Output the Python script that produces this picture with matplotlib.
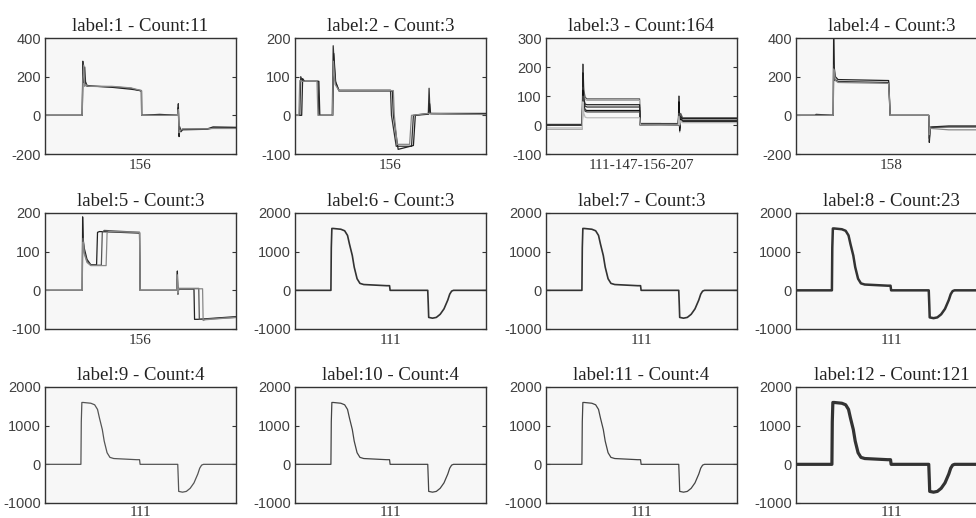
import matplotlib
matplotlib.use('Agg')
import matplotlib.pyplot as plt

# ---- panel text ----
labels = [1, 2, 3, 4, 5, 6, 7, 8, 9, 10, 11, 12]
counts = [11, 3, 164, 3, 3, 3, 3, 23, 4, 4, 4, 121]
xnames = ['156', '156', '111-147-156-207', '158', '156', '111',
          '111', '111', '111', '111', '111', '111']
yticks_list = [[-200, 0, 200, 400], [-100, 0, 100, 200], [-100, 0, 100, 200, 300],
               [-200, 0, 200, 400], [-100, 0, 100, 200]] + [[-1000, 0, 1000, 2000]] * 7

# ---- panel 1 (label 1) ----
p1_x = [0, 19.5, 19.8, 20.3, 20.8, 21.3, 22, 24, 35, 45, 50.5, 50.6, 60, 69.5,
        69.8, 70.2, 70.6, 71.2, 72, 85, 88, 100]
p1_y = [
    [0, 0, 280, 170, 250, 160, 150, 150, 148, 140, 125, 0, 0, 0, 60, -100, -60, -85, -75, -72, -65, -65],
    [0, 0, 220, 200, 180, 170, 155, 152, 145, 135, 128, 0, 5, 0, 40, -110, -70, -80, -72, -70, -60, -62],
    [0, 0, 180, 260, 150, 160, 152, 150, 150, 142, 128, 0, 0, 0, 30, -90, -80, -75, -70, -70, -68, -68],
]
p1_c = ['#333333', '#222222', '#888888']

# ---- panel 2 (label 2) ----
p2_x = [
    [0, 2.5, 3, 4, 12, 12.5, 19.5, 20, 21, 23, 50, 50.5, 53, 61, 62, 69.8, 70.2, 70.7, 100],
    [0, 3.5, 4, 5, 12.5, 13, 19.8, 20.3, 21.3, 23, 51, 51.5, 54, 62, 63, 70, 70.5, 71, 100],
    [0, 2, 2.5, 3.5, 11.5, 12, 19.6, 20.1, 21, 23, 51.5, 52, 53.5, 60, 61, 70, 100],
]
p2_y = [
    [0, 0, 100, 88, 88, 0, 0, 180, 90, 65, 65, 0, -80, -80, 0, 5, 70, 5, 5],
    [0, 0, 95, 88, 88, 0, 0, 160, 85, 63, 63, 0, -88, -78, 0, 3, 30, 4, 3],
    [0, 0, 90, 88, 88, 0, 0, 140, 80, 64, 64, 0, -75, -75, 0, 5, 2],
]
p2_c = ['#333333', '#222222', '#888888']

# ---- panel 3 (label 3) ----
p3_x = [0, 19, 19.3, 19.8, 20.5, 21.5, 49, 49.3, 60, 69.3, 69.6, 70, 70.5, 71.5, 100]
p3_y = [
    [0, 0, 210, 120, 95, 90, 90, 5, 5, 0, 100, -20, 40, 25, 25],
    [-15, -15, 150, 100, 88, 85, 85, 3, 3, 0, 70, -25, 30, 20, 20],
    [0, 0, 180, 90, 72, 70, 70, 2, 2, 0, 60, -10, 30, 22, 22],
    [2, 2, 130, 80, 65, 62, 62, 0, 2, 0, 50, -15, 25, 15, 15],
    [0, 0, 120, 70, 52, 50, 50, 0, 0, 0, 80, -20, 20, 12, 12],
    [0, 0, 100, 60, 47, 45, 45, 5, 5, 5, 40, -5, 15, 10, 10],
    [-10, -10, 80, 40, 27, 25, 25, 0, 0, 0, 30, 0, 15, 8, 8],
]
p3_c = ['#555555', '#aaaaaa', '#222222', '#333333', '#111111', '#444444', '#bbbbbb']

# ---- panel 4 (label 4) ----
p4_x = [0, 10, 10.5, 19.5, 19.7, 20, 20.6, 22, 48.5, 49, 49.3, 69.5, 69.8, 70.3, 71, 80, 100]
p4_y = [
    [0, 0, 5, 0, 420, 250, 200, 185, 180, 80, 0, 0, -140, -70, -60, -55, -55],
    [0, 0, 0, 0, 260, 180, 185, 175, 170, 60, 0, 0, -120, -60, -62, -60, -60],
    [0, 0, 0, 0, 240, 230, 180, 170, 165, 70, 0, 0, -100, -65, -68, -75, -75],
]
p4_c = ['#222222', '#333333', '#888888']

# ---- panel 5 (label 5) ----
p5_x = [
    [0, 19.5, 19.7, 20, 20.5, 22, 24, 27, 27.5, 28.5, 49.5, 49.8, 69, 69.3, 69.6, 70, 78, 78.3, 80, 100],
    [0, 19.5, 19.7, 20, 20.5, 22, 24, 29.5, 30, 31, 49.5, 49.8, 69, 69.3, 69.6, 70, 80.5, 80.8, 82, 100],
    [0, 19.5, 19.7, 20, 20.5, 22, 24, 32, 32.5, 33.5, 49.5, 49.8, 69, 69.3, 69.6, 70, 82.5, 82.8, 84, 100],
]
p5_y = [
    [0, 0, 190, 130, 110, 80, 66, 66, 150, 152, 148, 0, 0, 50, -10, 3, 3, -75, -75, -68],
    [0, 0, 130, 135, 100, 75, 65, 65, 150, 155, 150, 0, 0, 30, -5, 5, 5, -75, -75, -70],
    [0, 0, 120, 125, 95, 72, 64, 64, 148, 152, 150, 0, 0, 40, -8, 4, 4, -78, -76, -70],
]
p5_c = ['#222222', '#555555', '#888888']

# ---- panels 6-12 (labels 6..12, all "111") ----
w_x = [0, 18.8, 19, 19.3, 20, 24, 26, 27.5, 28.5, 30, 31, 32.5, 34, 36, 48, 49.5, 49.8,
       69.5, 69.8, 70, 72, 74, 76, 78, 80, 81, 82, 83, 100]
w_y = [0, 0, 1100, 1600, 1600, 1580, 1540, 1420, 1200, 900, 600, 300, 180, 150, 120, 120, 0,
       0, -400, -700, -720, -700, -620, -480, -250, -100, -20, 0, 0]
w_lw = [1.2, 1.2, 1.8, 0.9, 0.9, 0.9, 2.3]
w_col = ['#333333', '#333333', '#333333', '#555555', '#444444', '#444444', '#333333']

series = [
    ([p1_x] * 3, p1_y, p1_c, 0.9),
    (p2_x, p2_y, p2_c, 0.9),
    ([p3_x] * 7, p3_y, p3_c, 0.9),
    ([p4_x] * 3, p4_y, p4_c, 0.9),
    (p5_x, p5_y, p5_c, 0.9),
]
for lw, c in zip(w_lw, w_col):
    series.append(([w_x], [w_y], [c], lw))

plt.rcParams['font.family'] = 'Liberation Sans'
plt.rcParams['axes.unicode_minus'] = False

fig = plt.figure(figsize=(9.76, 5.18), dpi=100)
lefts = [45, 295, 546, 796]
tops = [38, 213, 387]
for i in range(12):
    r, c = divmod(i, 4)
    ax = fig.add_axes([lefts[c] / 976, 1 - (tops[r] + 116) / 518, 191 / 976, 116 / 518])
    ax.set_facecolor('#f7f7f7')
    xs, ys, cols, lw = series[i]
    for x, y, col in zip(xs, ys, cols):
        ax.plot(x, y, color=col, lw=lw)
    yt = yticks_list[i]
    ax.set_ylim(yt[0], yt[-1])
    ax.set_xlim(0, 100)
    ax.set_yticks(yt)
    ax.set_xticks([])
    ax.tick_params(axis='y', direction='in', length=3, right=True, labelsize=10.5,
                   labelcolor='#404040', color='#333333', pad=3)
    for s in ax.spines.values():
        s.set_color('#333333')
        s.set_linewidth(1.0)
    ax.set_title(f'label:{labels[i]} - Count:{counts[i]}', family='Liberation Serif',
                 fontsize=13.5, color='#222222', pad=5)
    ax.set_xlabel(xnames[i], family='Liberation Serif', fontsize=11,
                  color='#333333', labelpad=3.5 if r < 2 else 2)

fig.savefig('out.png', dpi=100)
